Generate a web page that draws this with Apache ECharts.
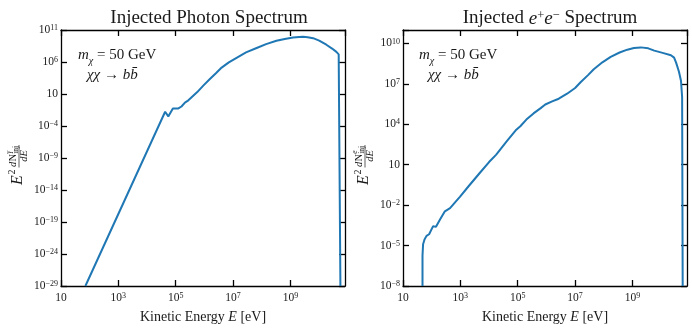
<!DOCTYPE html>
<html>
<head>
<meta charset="utf-8">
<script src="https://cdn.jsdelivr.net/npm/echarts@6/dist/echarts.min.js"></script>
<style>
  html, body { margin: 0; padding: 0; background: #fff; }
  #chart { width: 692px; height: 329px; }
</style>
</head>
<body>
<div id="chart"></div>
<script>
// values are log10 exponents (E in eV, E^2 dN/dE)
var photonLogE = [1.85, 4.63, 4.74, 4.90, 5.09, 5.20, 5.32, 5.44, 5.50, 5.75, 5.96, 6.19, 6.40, 6.60, 6.85,
  7.12, 7.45, 7.82, 8.15, 8.51, 8.80, 9.09, 9.30, 9.44, 9.60, 9.79, 10.00, 10.25, 10.45, 10.60, 10.68, 10.72, 10.74];
var photonLogY = [-29, -1.77, -2.5, -1.26, -1.26, -0.95, -0.34, 0.01, 0.27, 1.3, 2.31, 3.34, 4.25, 5.13, 5.95,
  6.66, 7.5, 8.19, 8.8, 9.31, 9.6, 9.82, 9.92, 9.93, 9.88, 9.72, 9.35, 8.70, 8.1, 7.58, 7.2, 6.9, -29];

var elecLogE = [1.68, 1.68, 1.70, 1.75, 1.82, 1.91, 2.05, 2.15, 2.29, 2.46, 2.64, 2.99, 3.30, 3.66, 4.00,
  4.25, 4.62, 4.95, 5.09, 5.30, 5.55, 5.80, 5.96, 6.20, 6.43, 6.72, 7.00, 7.19, 7.45, 7.65, 7.95, 8.24,
  8.55, 8.82, 9.05, 9.29, 9.55, 9.76, 10.05, 10.34, 10.45, 10.52, 10.62, 10.69, 10.73, 10.75];
var elecLogY = [-8, -5.74, -4.9, -4.55, -4.28, -4.16, -3.56, -3.61, -3.07, -2.46, -2.22, -1.37, -0.56, 0.35, 1.2,
  1.75, 2.75, 3.6, 3.86, 4.35, 4.81, 5.2, 5.47, 5.7, 5.9, 6.27, 6.7, 7.12, 7.65, 8.09, 8.6, 9.01,
  9.33, 9.54, 9.66, 9.71, 9.64, 9.47, 9.3, 9.13, 8.95, 8.58, 7.9, 7.24, 6.03, -8];

var xRange = [1, 10.9], xStep = 2;          // 10 .. ~8e10 eV, labels 10, 10^3, ...
var photonYRange = [-29, 11], photonYStep = 5;
var elecYRange = [-8, 11], elecYStep = 3;

var titles = ['Injected Photon Spectrum', '{r|Injected }{i|e}{s|+}{i|e}{s|\u2212}{r| Spectrum}'];

var SERIF = '"Liberation Serif", "DejaVu Serif", serif';
var INK = '#1a1a1a';
var BLUE = '#1f77b4';

function zip(a, b) {
    return a.map(function (v, i) { return [v, b[i]]; });
}

function powLabel(v) {
    if (v === 1) return '{b|10}';
    var e = v < 0 ? '\u2212' + (-v) : '' + v;
    return '{b|10}{s|' + e + '}';
}

var labelRich = {
    b: { fontFamily: SERIF, fontSize: 11.5, color: INK, lineHeight: 12, verticalAlign: 'bottom' },
    s: { fontFamily: SERIF, fontSize: 8, color: INK, lineHeight: 12, verticalAlign: 'top' }
};

function onStep(v, min, step) {
    var k = (v - min) / step;
    return Math.abs(k - Math.round(k)) < 1e-6;
}

function makeX(grid, pos, withLabels) {
    return {
        type: 'value', gridIndex: grid, position: pos,
        min: xRange[0], max: xRange[1], interval: xStep,
        name: withLabels ? '{r|Kinetic Energy }{i|E}{r| [eV]}' : '',
        nameLocation: 'middle', nameGap: 24,
        nameTextStyle: {
            rich: {
                r: { fontFamily: SERIF, fontSize: 14, color: INK },
                i: { fontFamily: SERIF, fontSize: 14, fontStyle: 'italic', color: INK }
            }
        },
        axisLine: { show: true, onZero: false, lineStyle: { color: '#000', width: 1.3 } },
        axisTick: { show: true, inside: true, length: 6, lineStyle: { color: '#000', width: 1.3 } },
        axisLabel: {
            show: withLabels, margin: 6, showMaxLabel: false, rich: labelRich,
            formatter: function (v) { return onStep(v, xRange[0], xStep) ? powLabel(v) : ''; }
        },
        splitLine: { show: false }
    };
}

function makeY(grid, pos, withLabels, range, step) {
    return {
        type: 'value', gridIndex: grid, position: pos,
        min: range[0], max: range[1], interval: step,
        axisLine: { show: true, onZero: false, lineStyle: { color: '#000', width: 1.3 } },
        axisTick: { show: true, inside: true, length: 6, lineStyle: { color: '#000', width: 1.3 } },
        axisLabel: {
            show: withLabels, margin: 3, rich: labelRich,
            formatter: function (v) { return onStep(v, range[0], step) ? powLabel(v) : ''; }
        },
        splitLine: { show: false }
    };
}

// rotated E^2 dN/dE label built from small text pieces
function yName(cx, cy, sym) {
    var f = function (size, italic) {
        return (italic ? 'italic ' : '') + size + 'px ' + SERIF;
    };
    var t = function (x, y, text, size, italic, align) {
        return {
            type: 'text', x: x, y: y,
            style: { text: text, font: f(size, italic), fill: INK, align: align || 'left', verticalAlign: 'middle' }
        };
    };
    return {
        type: 'group', x: cx, y: cy, rotation: Math.PI / 2,
        children: [
            t(-24, 1, 'E', 16, true),
            t(-13.5, -5, '2', 10, false),
            t(-6, -4, 'd', 10.5, true),
            t(-0.5, -4, 'N', 10.5, false),
            t(7.2, -8, sym, 7.5, true),
            t(7.2, -1, 'inj', 7.5, false),
            {
                type: 'line', shape: { x1: -6.5, y1: 2, x2: 16, y2: 2 },
                style: { stroke: INK, lineWidth: 0.7 }
            },
            t(5, 7.5, 'dE', 10.5, true, 'center')
        ]
    };
}

function note(x, y) {
    return [
        {
            type: 'text', x: x, y: y,
            style: {
                text: '{i|m}{sub|\u03c7}{r| = 50 GeV}', verticalAlign: 'middle',
                rich: {
                    i: { fontFamily: SERIF, fontSize: 15, fontStyle: 'italic', fill: INK, lineHeight: 19, verticalAlign: 'top' },
                    sub: { fontFamily: SERIF, fontSize: 10, fontStyle: 'italic', fill: INK, lineHeight: 19, verticalAlign: 'bottom' },
                    r: { fontFamily: SERIF, fontSize: 15, fill: INK, lineHeight: 19, verticalAlign: 'top' }
                }
            }
        },
        {
            type: 'text', x: x + 9, y: y + 18,
            style: {
                text: '\u03c7\u03c7 \u2192 bb\u0304', verticalAlign: 'middle',
                font: 'italic 15px ' + SERIF, fill: INK
            }
        }
    ];
}

var chart = echarts.init(document.getElementById('chart'));

chart.setOption({
    animation: false,
    backgroundColor: '#fff',
    title: [
        {
            text: titles[0], left: 204, top: 4, textAlign: 'center',
            textStyle: { fontFamily: SERIF, fontSize: 19, fontWeight: 'normal', color: INK }
        },
        {
            text: titles[1], left: 545, top: 4, textAlign: 'center',
            textStyle: {
                fontFamily: SERIF, fontSize: 19, fontWeight: 'normal', color: INK,
                rich: {
                    r: { fontFamily: SERIF, fontSize: 19, color: INK, lineHeight: 19, verticalAlign: 'bottom' },
                    i: { fontFamily: SERIF, fontSize: 19, fontStyle: 'italic', color: INK, lineHeight: 19, verticalAlign: 'bottom' },
                    s: { fontFamily: SERIF, fontSize: 12.5, color: INK, lineHeight: 19, verticalAlign: 'top' }
                }
            }
        }
    ],
    grid: [
        { left: 61, top: 30, width: 284, height: 261 },
        { left: 403, top: 30, width: 284, height: 261 }
    ],
    xAxis: [
        makeX(0, 'bottom', true), makeX(0, 'top', false),
        makeX(1, 'bottom', true), makeX(1, 'top', false)
    ],
    yAxis: [
        makeY(0, 'left', true, photonYRange, photonYStep), makeY(0, 'right', false, photonYRange, photonYStep),
        makeY(1, 'left', true, elecYRange, elecYStep), makeY(1, 'right', false, elecYRange, elecYStep)
    ],
    series: [
        {
            type: 'line', xAxisIndex: 0, yAxisIndex: 0, data: zip(photonLogE, photonLogY),
            showSymbol: false, lineStyle: { color: BLUE, width: 2 }, itemStyle: { color: BLUE }
        },
        {
            type: 'line', xAxisIndex: 2, yAxisIndex: 2, data: zip(elecLogE, elecLogY),
            showSymbol: false, lineStyle: { color: BLUE, width: 2 }, itemStyle: { color: BLUE }
        }
    ],
    graphic: [yName(17, 161, '\u03b3'), yName(363, 161, 'e')]
        .concat(note(78, 57)).concat(note(419, 57))
});
</script>
</body>
</html>
